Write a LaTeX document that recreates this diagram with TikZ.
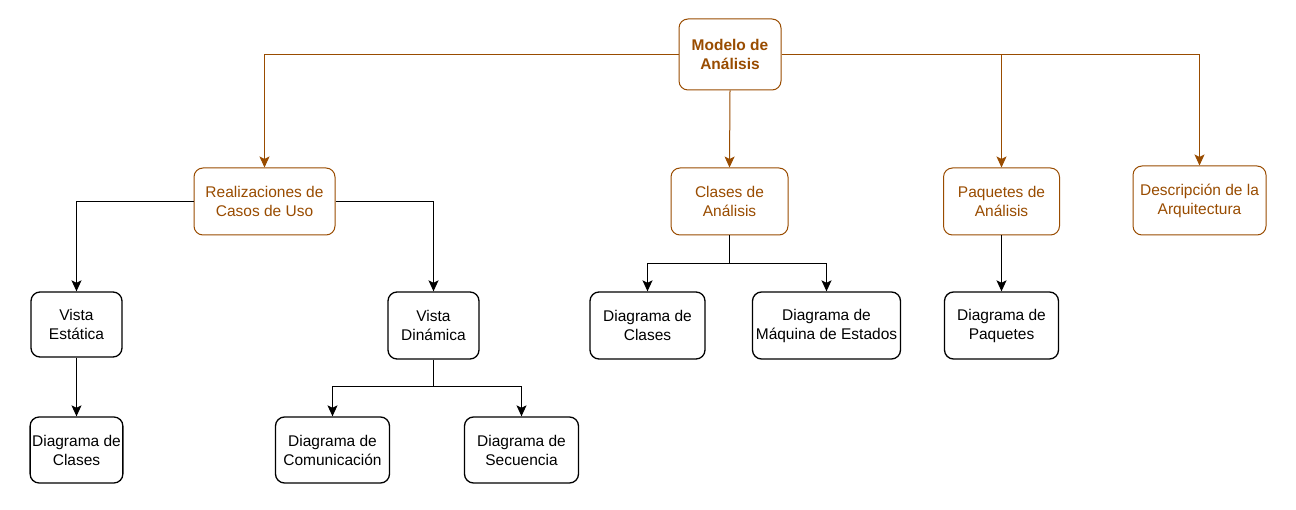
\documentclass[tikz,border=0pt]{standalone}
\usepackage{fontspec}
\setmainfont{Liberation Sans}
\usetikzlibrary{arrows.meta}
\definecolor{brn}{HTML}{994C00}
\tikzset{
  box/.style={draw, rounded corners=9pt, line width=1.3pt, fill=white, align=center, inner sep=2pt,
    font=\fontsize{15.5}{19}\selectfont},
  bbox/.style={draw=brn, rounded corners=9pt, line width=1pt, fill=white, align=center, inner sep=2pt,
    text=brn, font=\fontsize{15.5}{19}\selectfont},
  conn/.style={line width=1.2pt, -{Stealth[length=11pt,width=10pt,inset=2.5pt]}},
  bconn/.style={draw=brn, line width=1pt, -{Stealth[length=11pt,width=10pt,inset=2.5pt]}},
  plain/.style={line width=1.2pt},
}
\begin{document}
\begin{tikzpicture}[x=1pt,y=-1pt]
\useasboundingbox[fill=white] (0,0) rectangle (1296,510);
% nodes
\node[bbox, minimum width=102pt, minimum height=71pt, font=\fontsize{15.5}{19}\selectfont\bfseries] (top) at (730,54.5) {Modelo de\\Análisis};
\node[bbox, minimum width=141pt, minimum height=67pt] (real) at (264.5,201.5) {Realizaciones de\\Casos de Uso};
\node[bbox, minimum width=117pt, minimum height=67pt] (cla) at (729.5,201.5) {Clases de\\Análisis};
\node[bbox, minimum width=116pt, minimum height=67pt] (paq) at (1001.5,201.5) {Paquetes de\\Análisis};
\node[bbox, minimum width=133pt, minimum height=69pt] (desc) at (1199.5,200.5) {Descripción de la\\Arquitectura};
\node[box, minimum width=91pt, minimum height=65pt] (ve) at (76.5,324.5) {Vista\\Estática};
\node[box, minimum width=91pt, minimum height=67pt] (vd) at (433.5,325.5) {Vista\\Dinámica};
\node[box, minimum width=115pt, minimum height=67pt] (dc) at (647.5,325.5) {Diagrama de\\Clases};
\node[box, minimum width=148pt, minimum height=67pt] (dm) at (826.5,325.5) {Diagrama de\\Máquina de Estados};
\node[box, minimum width=114pt, minimum height=67pt] (dp) at (1001.5,325.5) {Diagrama de\\Paquetes};
\node[box, minimum width=91pt, minimum height=66pt] (dc2) at (76.5,450) {Diagrama de\\Clases};
\node[box, minimum width=114pt, minimum height=66pt] (dcom) at (332.5,450) {Diagrama de\\Comunicación};
\node[box, minimum width=114pt, minimum height=66pt] (dsec) at (521.5,450) {Diagrama de\\Secuencia};
% junctions
\coordinate (cj) at (729.5,263.5);
\coordinate (vj) at (433.5,386.5);
\coordinate (pj) at (paq.north |- top.east);
% connectors
\draw[bconn] (top.west) -| (real.north);
\draw[bconn] (top.south) -- (cla.north);
\draw[bconn] (top.east) -| (paq.north);
\draw[bconn] (pj) -| (desc.north);
\draw[conn] (real.west) -| (ve.north);
\draw[conn] (real.east) -| (vd.north);
\draw[plain] (cla.south) -- (cj);
\draw[conn] (cj) -| (dc.north);
\draw[conn] (cj) -| (dm.north);
\draw[conn] (paq.south) -- (dp.north);
\draw[conn] (ve.south) -- (dc2.north);
\draw[plain] (vd.south) -- (vj);
\draw[conn] (vj) -| (dcom.north);
\draw[conn] (vj) -| (dsec.north);
\end{tikzpicture}
\end{document}
